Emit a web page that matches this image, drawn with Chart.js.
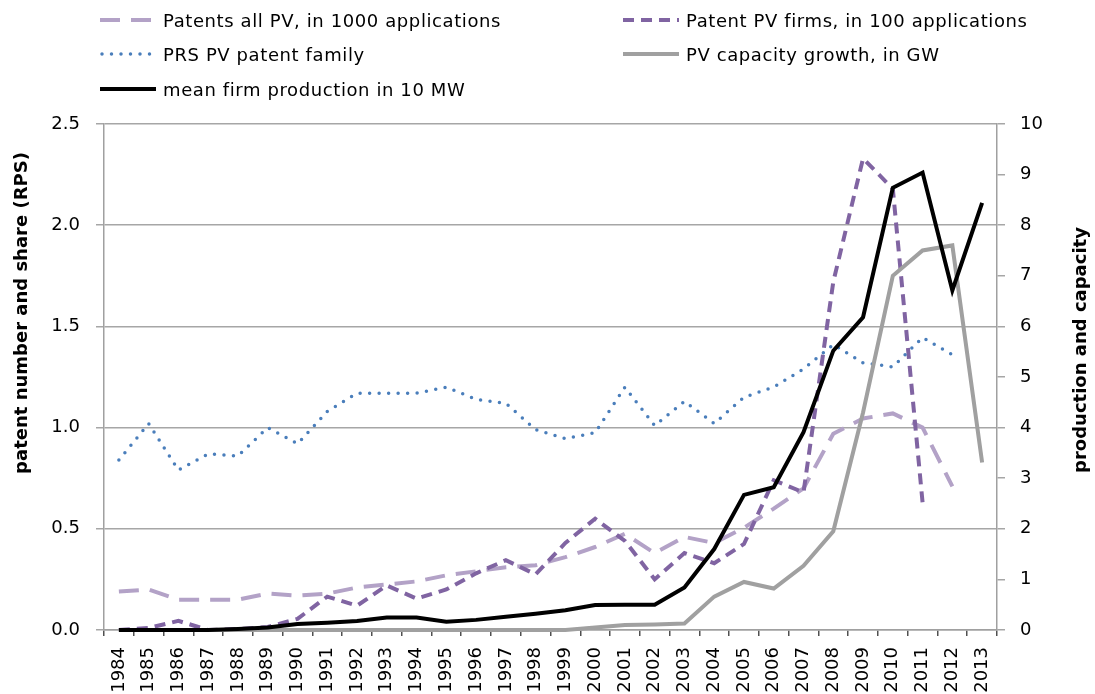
<!DOCTYPE html>
<html>
<head>
<meta charset="utf-8">
<script src="https://cdn.jsdelivr.net/npm/chart.js@4.4.0/dist/chart.umd.min.js"></script>
<style>
  html, body { margin: 0; padding: 0; background: #fff; }
  #wrap { position: relative; width: 1095px; height: 694px; }
  #legend { position: absolute; left: 0; top: 0; width: 1095px; height: 110px;
            font-family: 'DejaVu Sans', sans-serif; font-size: 18px; letter-spacing: 0.6px; color: #000; }
  .item { position: absolute; display: flex; align-items: center; height: 24px; white-space: nowrap; }
  .item svg { margin-right: 7px; }
</style>
</head>
<body>
<div id="wrap">
  <canvas id="pvChart" width="1095" height="694"></canvas>
  <div id="legend"></div>
</div>
<script>
// Вхідні дані
const years = ['1984', '1985', '1986', '1987', '1988', '1989', '1990', '1991', '1992', '1993',
  '1994', '1995', '1996', '1997', '1998', '1999', '2000', '2001', '2002', '2003',
  '2004', '2005', '2006', '2007', '2008', '2009', '2010', '2011', '2012', '2013'];

// left axis
const patentsAll = [0.19, 0.20, 0.15, 0.15, 0.15, 0.18, 0.17, 0.18, 0.21, 0.225,
  0.24, 0.27, 0.29, 0.31, 0.32, 0.36, 0.41, 0.475, 0.38, 0.46,
  0.43, 0.505, 0.60, 0.70, 0.97, 1.045, 1.07, 1.0, 0.71, null];
const patentFirms = [0, 0.01, 0.045, 0, 0.005, 0.015, 0.055, 0.165, 0.12, 0.22,
  0.155, 0.2, 0.28, 0.345, 0.275, 0.43, 0.55, 0.44, 0.25, 0.38,
  0.33, 0.425, 0.74, 0.68, 1.72, 2.33, 2.18, 0.63, null, null];
const prsFamily = [0.84, 1.02, 0.79, 0.87, 0.86, 1.0, 0.92, 1.08, 1.17, 1.17,
  1.17, 1.2, 1.14, 1.12, 0.99, 0.945, 0.975, 1.2, 1.01, 1.13,
  1.02, 1.15, 1.2, 1.29, 1.41, 1.32, 1.30, 1.445, 1.36, null];

// right axis
const capacityGrowth = [0, 0, 0, 0, 0, 0, 0, 0, 0, 0,
  0, 0, 0, 0, 0, 0, 0.05, 0.1, 0.11, 0.13,
  0.66, 0.95, 0.82, 1.27, 1.95, 4.3, 7.0, 7.5, 7.6, 3.31];
const firmProduction = [0, 0, 0, 0, 0.02, 0.05, 0.12, 0.145, 0.18, 0.245,
  0.245, 0.165, 0.2, 0.26, 0.32, 0.39, 0.495, 0.5, 0.5, 0.84,
  1.6, 2.67, 2.82, 3.91, 5.52, 6.18, 8.74, 9.04, 6.71, 8.44];

const leftTicks = { min: 0, max: 2.5, step: 0.5 };
const rightTicks = { min: 0, max: 10, step: 1 };

const FONT = "'DejaVu Sans', sans-serif";
Chart.defaults.font.family = FONT;
Chart.defaults.font.size = 18;
Chart.defaults.color = '#000';

const datasets = [
  { label: 'Patents all PV, in 1000 applications', data: patentsAll, yAxisID: 'y',
    borderColor: '#b3a2c7', borderWidth: 4, borderDash: [20, 11], order: 5,
    legendPos: [100, 8] },
  { label: 'Patent PV firms, in 100 applications', data: patentFirms, yAxisID: 'y',
    borderColor: '#8064a2', borderWidth: 4, borderDash: [11, 7], order: 4,
    legendPos: [623, 8] },
  { label: 'PRS PV patent family', data: prsFamily, yAxisID: 'y',
    borderColor: '#4a7ebb', borderWidth: 3.5, borderDash: [0, 9.5], borderCapStyle: 'round', order: 3,
    legendPos: [100, 42] },
  { label: 'PV capacity growth, in GW', data: capacityGrowth, yAxisID: 'y2',
    borderColor: '#a0a0a0', borderWidth: 4, order: 2,
    legendPos: [623, 42] },
  { label: 'mean firm production in 10 MW', data: firmProduction, yAxisID: 'y2',
    borderColor: '#000000', borderWidth: 4, order: 1,
    legendPos: [100, 77] },
];
datasets.forEach(d => {
  d.pointRadius = 0;
  d.tension = 0;
  d.fill = false;
  d.clip = false;
});

// підписи осей
const axisTitles = {
  id: 'axisTitles',
  afterDraw(chart) {
    const ctx = chart.ctx;
    const draw = (text, x, y) => {
      ctx.save();
      ctx.font = 'bold 18px ' + FONT;
      ctx.fillStyle = '#000';
      ctx.textAlign = 'center';
      ctx.textBaseline = 'middle';
      ctx.translate(x, y);
      ctx.rotate(-Math.PI / 2);
      ctx.fillText(text, 0, 0);
      ctx.restore();
    };
    draw('patent number and share (RPS)', 22, 313);
    draw('production and capacity', 1081, 350);
  },
};

const ctx = document.getElementById('pvChart').getContext('2d');
const chart = new Chart(ctx, {
  type: 'line',
  data: { labels: years, datasets: datasets },
  options: {
    responsive: false,
    animation: false,
    layout: { padding: { top: 124, left: 0, right: 0, bottom: 0 } },
    plugins: {
      legend: { display: false },
      title: { display: false },
      tooltip: { enabled: false },
    },
    scales: {
      x: {
        type: 'category',
        offset: true,
        grid: { display: true, drawOnChartArea: false, drawTicks: true, tickLength: 6,
                offset: true, color: '#505050', lineWidth: 1.5 },
        border: { display: true, color: '#a0a0a0', width: 1.5 },
        ticks: { autoSkip: false, minRotation: 90, maxRotation: 90, padding: 11 },
        afterFit: s => { s.height = 64; },
      },
      y: {
        position: 'left',
        min: leftTicks.min,
        max: leftTicks.max,
        ticks: { stepSize: leftTicks.step, padding: 16, callback: v => v.toFixed(1) },
        grid: { color: '#a6a6a6', lineWidth: 1.5, tickLength: 8 },
        border: { display: true, color: '#a0a0a0', width: 1.5 },
        afterFit: s => { s.width = 104; },
      },
      y2: {
        position: 'right',
        min: rightTicks.min,
        max: rightTicks.max,
        ticks: { stepSize: rightTicks.step, padding: 15 },
        grid: { drawOnChartArea: false, color: '#a6a6a6', lineWidth: 1.5, tickLength: 8 },
        border: { display: true, color: '#a0a0a0', width: 1.5 },
        afterFit: s => { s.width = 98; },
      },
    },
  },
  plugins: [axisTitles],
});

// легенда у дві колонки, як в оригіналі
const legendEl = document.getElementById('legend');
chart.data.datasets.forEach(d => {
  const item = document.createElement('div');
  item.className = 'item';
  item.style.left = d.legendPos[0] + 'px';
  item.style.top = d.legendPos[1] + 'px';
  const dash = d.borderDash ? d.borderDash.join(' ') : 'none';
  const cap = d.borderCapStyle || 'butt';
  item.innerHTML =
    `<svg width="56" height="10"><line x1="${cap === 'round' ? 2 : 0}" y1="5" x2="56" y2="5" stroke="${d.borderColor}"
      stroke-width="${d.borderWidth}" stroke-dasharray="${dash}" stroke-linecap="${cap}"/></svg>` +
    `<span>${d.label}</span>`;
  legendEl.appendChild(item);
});
</script>
</body>
</html>
